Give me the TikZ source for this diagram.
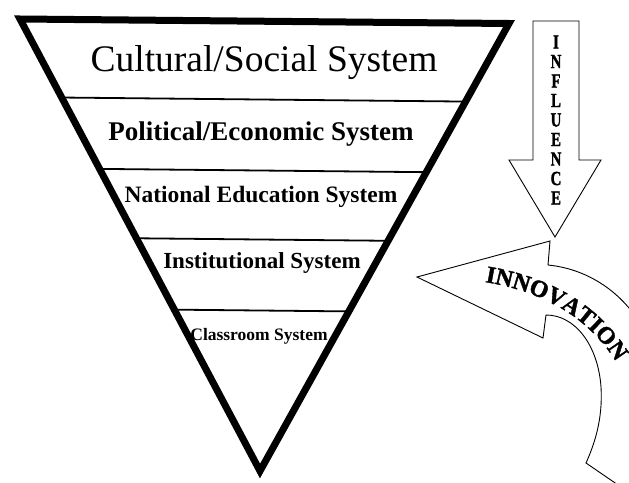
\documentclass[tikz,border=0pt]{standalone}
\usepackage{fontspec}
\setmainfont{Liberation Serif}
\newfontfamily\heavyfont{Liberation Serif}[BoldFeatures={FakeBold=1.5}]
\usetikzlibrary{decorations.text}
\begin{document}
\begin{tikzpicture}[x=1pt,y=-1pt,
  tri/.style={line width=7pt, line join=miter},
  layerline/.style={line width=1.8pt},
  outline/.style={line width=0.9pt, line join=miter},
  lbl/.style={inner sep=0pt, anchor=base},
  inflet/.style={inner sep=0pt, font=\heavyfont\bfseries\fontsize{20}{20}\selectfont}]
\useasboundingbox[fill=white] (0,0) rectangle (629,482);
% triangle corners
\coordinate (tl) at (20,19);
\coordinate (tr) at (509,23.5);
\coordinate (ap) at (260,471);
% layer lines clipped to the triangle
\begin{scope}
  \clip (tl) -- (tr) -- (ap) -- cycle;
  \foreach \c in {99.5,170.5,239.5,310.5}
    \draw[layerline] (0,\c-2.6) -- (629,\c+3.7);
\end{scope}
\draw[tri] (tl) -- (tr) -- (ap) -- cycle;
% labels
\node[lbl, font=\fontsize{37.5}{37.5}\selectfont] (cult) at (264,71) {Cultural/Social System};
\node[lbl, font=\bfseries\fontsize{27}{27}\selectfont] (pol) at (261,140) {Political/Economic System};
\node[lbl, font=\bfseries\fontsize{23.5}{23.5}\selectfont] (nat) at (261,202) {National Education System};
\node[lbl, font=\bfseries\fontsize{23}{23}\selectfont] (inst) at (262,268) {Institutional System};
\node[lbl, font=\bfseries\fontsize{17.5}{17.5}\selectfont] (cls) at (259,340) {Classroom System};
% influence arrow
\draw[outline, fill=white] (533,21) -- (579,21) -- (579,160) -- (601,160) -- (555,237)
  -- (509,160) -- (533,160) -- cycle;
\foreach \l [count=\i] in {I,N,F,L,U,E,N,C,E}
  \node[inflet] (inf\i) at (556,{42+19.5*(\i-1)}) {\scalebox{0.75}[1]{\l}};
% innovation arrow
\begin{scope}
  \clip (0,0) rectangle (629,482);
  \draw[outline, fill=white] (417,277) -- (550,241) -- (548,265)
    .. controls (600,270) and (650,310) .. (660,380) -- (680,500) -- (640,500)
    -- (586,463) .. controls (594,445) and (603,420) .. (601,387)
    .. controls (598,345) and (575,315) .. (546,315) -- (543,338) -- cycle;
  \path[decorate, decoration={text along path,
      text={|\heavyfont\bfseries\fontsize{24}{24}\selectfont|INNOVATION}, text align=left}]
    (485,282) .. controls (545,292) and (600,320) .. (628,385);
\end{scope}
\end{tikzpicture}
\end{document}
